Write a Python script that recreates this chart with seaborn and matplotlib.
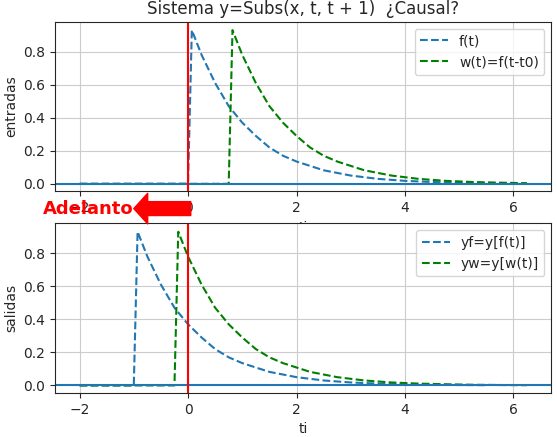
import numpy as np
import matplotlib
matplotlib.use("Agg")
import matplotlib.pyplot as plt
import seaborn as sns

sns.set_style("ticks")
plt.rcParams['font.family'] = ['DejaVu Sans']

# decaying pulse: offset after the jump -> value
offsets = [0, 0.07, 0.25, 0.5, 0.75, 1, 1.25, 1.5, 1.75, 2, 2.5, 3, 3.5, 4, 4.5, 5, 5.5, 6, 6.5, 7.3]
pulse = [0, 0.93, 0.78, 0.61, 0.47, 0.37, 0.29, 0.22, 0.17, 0.135, 0.082, 0.05, 0.03,
         0.018, 0.011, 0.007, 0.004, 0.0025, 0.0015, 0.0007]
t_start, t_end = -2.0, 6.28

shift_f, shift_w = 0.0, 0.75
shift_yf, shift_yw = -1.0, -0.25


def series(shift):
    t = [t_start] + [shift + d for d in offsets if shift + d <= t_end]
    v = [0] + [p for d, p in zip(offsets, pulse) if shift + d <= t_end]
    return t, v


fig, (ax1, ax2) = plt.subplots(2, 1, figsize=(5.57, 4.37), dpi=100)

for ax, (s1, l1), (s2, l2), ylab in [
        (ax1, (shift_f, 'f(t)'), (shift_w, 'w(t)=f(t-t0)'), 'entradas'),
        (ax2, (shift_yf, 'yf=y[f(t)]'), (shift_yw, 'yw=y[w(t)]'), 'salidas')]:
    t, v = series(s1)
    sns.lineplot(x=t, y=v, ax=ax, color='C0', linestyle='--', label=l1)
    t, v = series(s2)
    sns.lineplot(x=t, y=v, ax=ax, color='green', linestyle='--', label=l2)
    ax.axhline(0, color='C0')
    ax.axvline(0, color='red')
    ax.set_xlim(-2.45, 6.7)
    ax.set_ylim(-0.045, 0.98)
    ax.set_yticks([0, 0.2, 0.4, 0.6, 0.8])
    ax.set_ylabel(ylab)
    ax.set_xlabel('ti')
    ax.grid(True)
    ax.legend(loc='upper right')

ax1.set_title('Sistema y=Subs(x, t, t + 1)  ¿Causal?')
ax2.annotate('', xy=(-1.0, 1.07), xytext=(0.05, 1.07), annotation_clip=False,
             arrowprops=dict(facecolor='red', edgecolor='red', width=10, headwidth=22, headlength=10))
ax2.text(-1.0, 1.07, 'Adelanto', color='red', fontsize=13, fontweight='bold',
         ha='right', va='center', clip_on=False, zorder=5)

fig.subplots_adjust(left=0.099, right=0.99, top=0.95, bottom=0.101, hspace=0.19)
fig.savefig('out.png', dpi=100)
